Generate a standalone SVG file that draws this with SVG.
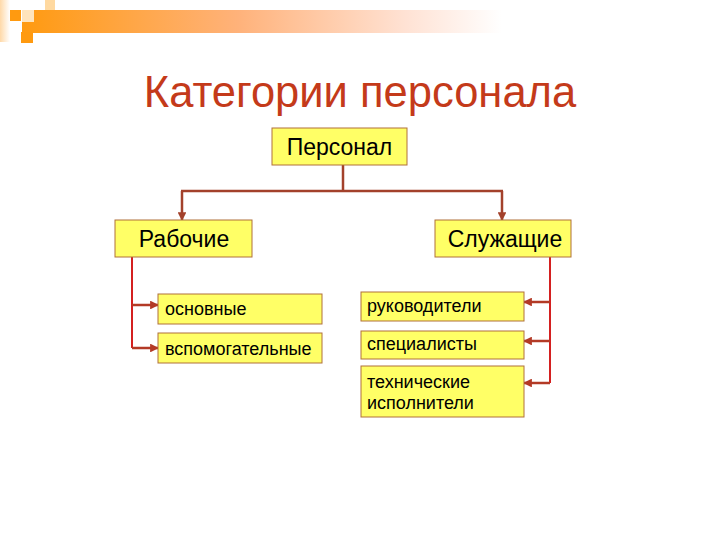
<svg xmlns="http://www.w3.org/2000/svg" width="720" height="540" viewBox="0 0 720 540">
  <style>
    .box { fill: #FFFF66; stroke: #B0703A; stroke-width: 1; }
    .big { font-family: "Liberation Sans", Arial, sans-serif; font-size: 23px; fill: #000; text-anchor: middle; }
    .small { font-family: "Liberation Sans", Arial, sans-serif; font-size: 18px; fill: #000; }
    .top { fill: none; stroke: #A3412B; stroke-width: 2.5; }
    .red { fill: none; stroke: #D42020; stroke-width: 2; }
    .br { fill: none; stroke: #B33A26; stroke-width: 2.5; }
  </style>
  <defs>
    <linearGradient id="bar" x1="0" y1="0" x2="1" y2="0">
      <stop offset="0" stop-color="#FF9A10"/>
      <stop offset="0.45" stop-color="#FFB27A"/>
      <stop offset="0.8" stop-color="#FFE2D4"/>
      <stop offset="1" stop-color="#FFFFFF"/>
    </linearGradient>
    <linearGradient id="side" x1="0" y1="0" x2="1" y2="0">
      <stop offset="0" stop-color="#FFD9A8"/>
      <stop offset="1" stop-color="#FFFFFF"/>
    </linearGradient>
    <marker id="ahb" viewBox="0 0 10 10" refX="9" refY="5" markerWidth="3.5" markerHeight="3.5" orient="auto" markerUnits="strokeWidth">
      <path d="M0,0 L10,5 L0,10 z" fill="#A3412B"/>
    </marker>
    <marker id="ahr" viewBox="0 0 10 10" refX="9" refY="5" markerWidth="3.5" markerHeight="3.5" orient="auto" markerUnits="strokeWidth">
      <path d="M0,0 L10,5 L0,10 z" fill="#B33A26"/>
    </marker>
  </defs>

  <g id="header">
    <rect x="0" y="0" width="10" height="42" fill="url(#side)"/>
    <rect x="45" y="0" width="10" height="10" fill="#FFD9A0"/>
    <rect x="22" y="10" width="480" height="23" fill="url(#bar)"/>
    <rect x="22" y="10" width="12" height="12" fill="#FFE4BC"/>
    <rect x="10" y="10" width="11" height="11" fill="#FF9A10"/>
    <rect x="21" y="32" width="12" height="11" fill="#FF9A10"/>
  </g>

  <text id="title" x="360" y="107" font-family="'Liberation Sans', Arial, sans-serif" font-size="43.5" fill="#C43A1A" text-anchor="middle">Категории персонала</text>

  <g id="connectors">
    <path class="top" d="M343,165 V191"/>
    <path class="top" d="M181,191 H503"/>
    <path class="top" d="M182,191 V220" marker-end="url(#ahb)"/>
    <path class="top" d="M502,191 V220" marker-end="url(#ahb)"/>
    <path class="red" d="M132,257 V348"/>
    <path class="br" d="M132,305 H158" marker-end="url(#ahr)"/>
    <path class="br" d="M132,348 H158" marker-end="url(#ahr)"/>
    <path class="red" d="M550,257 V383"/>
    <path class="br" d="M550,302 H524" marker-end="url(#ahr)"/>
    <path class="br" d="M550,341 H524" marker-end="url(#ahr)"/>
    <path class="br" d="M550,383 H524" marker-end="url(#ahr)"/>
  </g>

  <g id="personal">
    <rect class="box" x="272" y="128" width="135" height="37"/>
    <text class="big" x="339.5" y="155">Персонал</text>
  </g>
  <g id="workers">
    <rect class="box" x="115" y="220" width="137" height="37"/>
    <text class="big" x="184" y="247">Рабочие</text>
  </g>
  <g id="employees">
    <rect class="box" x="435" y="220" width="136" height="37"/>
    <text class="big" x="505" y="247">Служащие</text>
  </g>
  <g id="main">
    <rect class="box" x="158" y="294" width="164" height="30"/>
    <text class="small" x="165" y="315">основные</text>
  </g>
  <g id="auxiliary">
    <rect class="box" x="158" y="333" width="164" height="30"/>
    <text class="small" x="165" y="355">вспомогательные</text>
  </g>
  <g id="managers">
    <rect class="box" x="361" y="292" width="163" height="29"/>
    <text class="small" x="367" y="312">руководители</text>
  </g>
  <g id="specialists">
    <rect class="box" x="361" y="331" width="163" height="28"/>
    <text class="small" x="367" y="350">специалисты</text>
  </g>
  <g id="technical">
    <rect class="box" x="361" y="366" width="163" height="51"/>
    <text class="small" x="367" y="388">технические</text>
    <text class="small" x="367" y="409">исполнители</text>
  </g>
</svg>
